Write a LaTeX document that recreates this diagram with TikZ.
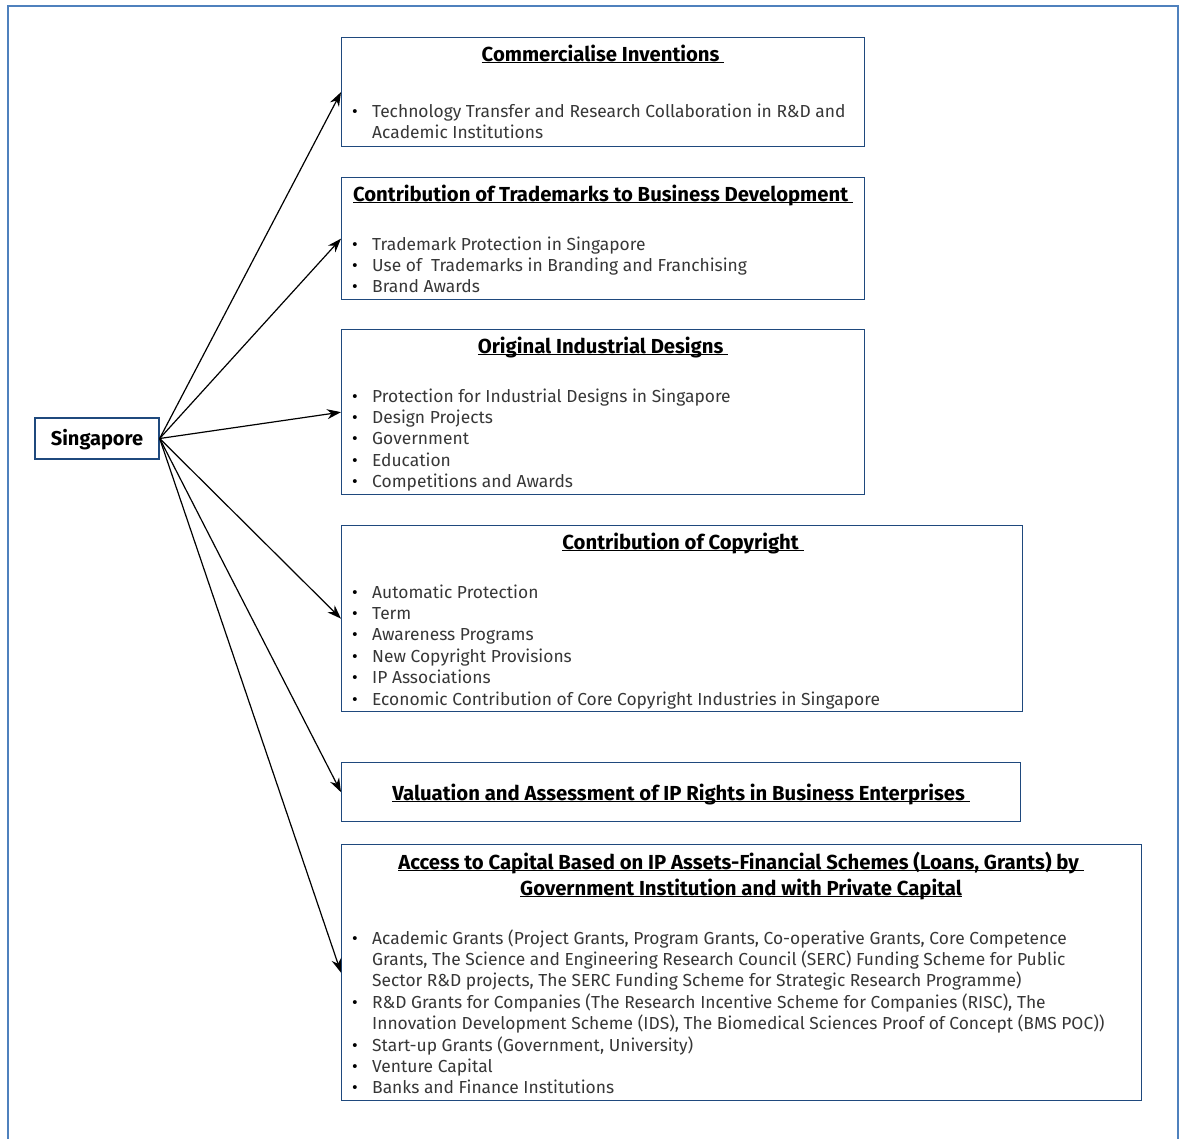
\documentclass[tikz,border=0pt]{standalone}
\usepackage{fontspec}
\setmainfont{Fira Sans}
\usetikzlibrary{arrows.meta}
\definecolor{boxblue}{RGB}{31,73,125}
\definecolor{frameblue}{RGB}{79,129,189}
\definecolor{itemgrey}{RGB}{55,55,55}
\newcommand{\bul}{\makebox[20pt][l]{\textcolor{black}{\textbullet}}}
\newcommand{\cont}{\hspace*{20pt}}
\newcommand{\headline}[1]{\underline{\smash{#1}}}

\begin{document}
\begin{tikzpicture}[x=1pt,y=-1pt]
 \tikzstyle{topic} = [draw=boxblue,line width=1.3pt,anchor=north west,inner sep=0pt]
 \tikzstyle{head} = [font=\bfseries\fontsize{20.3}{26}\selectfont,align=center,anchor=base,inner sep=0pt]
 \tikzstyle{items} = [font=\fontsize{17.4}{21.4}\selectfont,align=left,anchor=base west,inner sep=0pt,text=itemgrey]
 \tikzstyle{l} = [draw,-{Stealth[length=14pt,width=10pt]},line width=1.2pt]
 \useasboundingbox (0,0) rectangle (1180,1138);
 % outer frame, open at the bottom
 \draw [frameblue,line width=1.5pt] (8,1145) -- (8,6) -- (1178,6) -- (1178,1145);

 \node [draw=boxblue,line width=1.3pt,minimum width=124,minimum height=41,text height=15,text depth=2,
   font=\bfseries\fontsize{20}{22}\selectfont] (sg) at (97,438.5) {Singapore};

 \node [topic,minimum width=523,minimum height=109] (inv) at (341,37) {};
 \node [topic,minimum width=523,minimum height=122] (tm) at (341,177) {};
 \node [topic,minimum width=523,minimum height=165] (des) at (341,329) {};
 \node [topic,minimum width=681,minimum height=186] (cop) at (341,525) {};
 \node [topic,minimum width=679,minimum height=59] (val) at (341,762) {};
 \node [topic,minimum width=800,minimum height=256] (cap) at (341,844) {};

 % headings (base = last line)
 \node [head] (invH) at (603,61) {\headline{Commercialise Inventions\ }};
 \node [head] (tmH) at (603,201) {\headline{Contribution of Trademarks to Business Development\ }};
 \node [head] (desH) at (603,353) {\headline{Original Industrial Designs\ }};
 \node [head] (copH) at (683,549) {\headline{Contribution of Copyright\ }};
 \node [head] (valH) at (681,800) {\headline{Valuation and Assessment of IP Rights in Business Enterprises\ }};
 \node [head] (capH) at (741,895) {\headline{Access to Capital Based on IP Assets-Financial Schemes (Loans, Grants) by\ }\\
   \headline{Government Institution and with Private Capital}};

 % bullet lists (base = last line)
 \node [items] (invL) at (352,138.4) {\bul Technology Transfer and Research Collaboration in R\&D and\\
   \cont Academic Institutions};
 \node [items] (tmL) at (352,292.8) {\bul Trademark Protection in Singapore\\
   \bul Use of\ \ Trademarks in Branding and Franchising\\
   \bul Brand Awards};
 \node [items] (desL) at (352,487.6) {\bul Protection for Industrial Designs in Singapore\\
   \bul Design Projects\\
   \bul Government\\
   \bul Education\\
   \bul Competitions and Awards};
 \node [items] (copL) at (352,705) {\bul Automatic Protection\\
   \bul Term\\
   \bul Awareness Programs\\
   \bul New Copyright Provisions\\
   \bul IP Associations\\
   \bul Economic Contribution of Core Copyright Industries in Singapore};
 \node [items] (capL) at (352,1093.8) {\bul Academic Grants (Project Grants, Program Grants, Co-operative Grants, Core Competence\\
   \cont Grants, The Science and Engineering Research Council (SERC) Funding Scheme for Public\\
   \cont Sector R\&D projects, The SERC Funding Scheme for Strategic Research Programme)\\
   \bul R\&D Grants for Companies (The Research Incentive Scheme for Companies (RISC), The\\
   \cont Innovation Development Scheme (IDS), The Biomedical Sciences Proof of Concept (BMS POC))\\
   \bul Start-up Grants (Government, University)\\
   \bul Venture Capital\\
   \bul Banks and Finance Institutions};

 \path [l] (sg.east) -- (inv.west);
 \path [l] (sg.east) -- (tm.west);
 \path [l] (sg.east) -- (des.west);
 \path [l] (sg.east) -- (cop.west);
 \path [l] (sg.east) -- (val.west);
 \path [l] (sg.east) -- (cap.west);
\end{tikzpicture}
\end{document}
